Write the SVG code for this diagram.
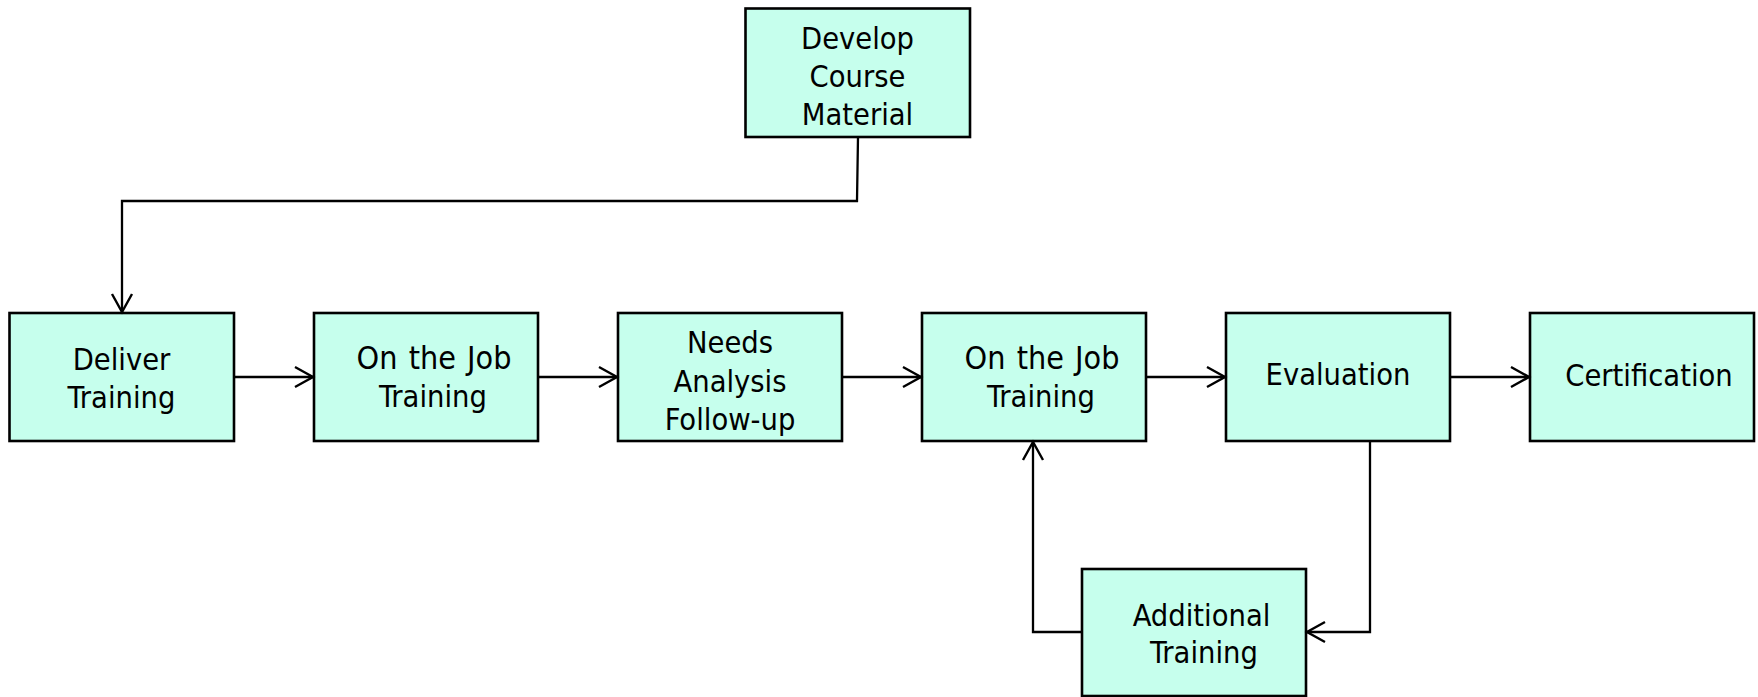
<svg xmlns="http://www.w3.org/2000/svg" width="1758" height="697" viewBox="0 0 1758 697">
<style>
.box{fill:#c6ffed;stroke:#000;stroke-width:2.6}
.t{font-family:"DejaVu Sans Condensed","DejaVu Sans",sans-serif;font-stretch:condensed;font-size:30.5px;fill:#000;text-anchor:middle}
.w{font-size:32px;word-spacing:2px}
.c{fill:none;stroke:#000;stroke-width:2.3}
</style>
<defs>
<marker id="arr" markerUnits="userSpaceOnUse" markerWidth="24" markerHeight="24" viewBox="0 0 24 24" refX="20" refY="12" orient="auto">
<path d="M2,2 L20,12 L2,22" fill="none" stroke="#000" stroke-width="2.4"/>
</marker>
</defs>
<rect width="1758" height="697" fill="#fff"/>
<g id="develop"><rect class="box" x="745.5" y="8.5" width="224.5" height="128.5"/>
<text class="t" x="857.5" y="49">Develop</text><text class="t" x="857.5" y="87">Course</text><text class="t" x="857.5" y="125">Material</text></g>
<g id="deliver"><rect class="box" x="9.5" y="313" width="224.5" height="128"/>
<text class="t" x="121.5" y="370">Deliver</text><text class="t" x="121.5" y="408">Training</text></g>
<g id="ojt1"><rect class="box" x="314" y="313" width="224" height="128"/>
<text class="t w" x="434" y="369">On the Job</text><text class="t" x="433" y="407">Training</text></g>
<g id="needs"><rect class="box" x="618" y="313" width="224" height="128"/>
<text class="t" x="730" y="353">Needs</text><text class="t" x="730" y="391.5">Analysis</text><text class="t" x="730" y="430">Follow-up</text></g>
<g id="ojt2"><rect class="box" x="922" y="313" width="224" height="128"/>
<text class="t w" x="1042" y="369">On the Job</text><text class="t" x="1041" y="407">Training</text></g>
<g id="evaluation"><rect class="box" x="1226" y="313" width="224" height="128"/>
<text class="t" x="1338" y="385">Evaluation</text></g>
<g id="certification"><rect class="box" x="1530" y="313" width="224" height="128"/>
<text class="t" x="1649" y="386">Certification</text></g>
<g id="additional"><rect class="box" x="1082" y="569" width="224" height="127"/>
<text class="t" x="1201.5" y="626">Additional</text><text class="t" x="1204" y="663">Training</text></g>
<g id="connectors">
<polyline class="c" points="858,137 857,201 122,201 122,312" marker-end="url(#arr)"/>
<line class="c" x1="234" y1="377" x2="313" y2="377" marker-end="url(#arr)"/>
<line class="c" x1="538" y1="377" x2="617" y2="377" marker-end="url(#arr)"/>
<line class="c" x1="842" y1="377" x2="921" y2="377" marker-end="url(#arr)"/>
<line class="c" x1="1146" y1="377" x2="1225" y2="377" marker-end="url(#arr)"/>
<line class="c" x1="1450" y1="377" x2="1529" y2="377" marker-end="url(#arr)"/>
<polyline class="c" points="1370,441 1370,632 1307,632" marker-end="url(#arr)"/>
<polyline class="c" points="1082,632 1033,632 1033,442" marker-end="url(#arr)"/>
</g>
</svg>
